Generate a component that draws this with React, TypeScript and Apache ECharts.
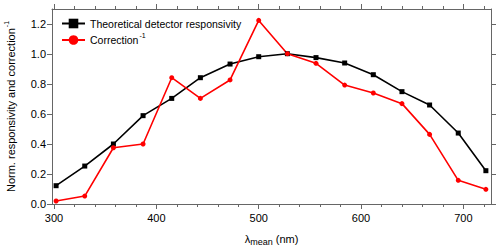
import React, { useEffect, useRef } from "react";
import * as echarts from "echarts";

const wavelengths = [302, 330, 358, 387, 415, 443, 472, 500, 528, 556, 584, 612, 640, 667, 695, 722];
const responsivity = [0.122, 0.253, 0.4, 0.589, 0.704, 0.842, 0.933, 0.982, 1.002, 0.976, 0.94, 0.862, 0.749, 0.66, 0.473, 0.222];
const correctionInv = [0.02, 0.053, 0.375, 0.4, 0.842, 0.704, 0.827, 1.224, 1.002, 0.938, 0.793, 0.74, 0.669, 0.464, 0.158, 0.098];
const xMajorTicks = [300, 400, 500, 600, 700];
const xMinorTicks = [300, 320, 340, 360, 380, 400, 420, 440, 460, 480, 500, 520, 540, 560, 580, 600, 620, 640, 660, 680, 700, 720];
const yTicks = [0, 0.2, 0.4, 0.6, 0.8, 1.0, 1.2];

const FONT = "Liberation Sans, Arial, sans-serif";
const AXIS_COLOR = "#666";
const FS = 11;

export default function App() {
  const ref = useRef<HTMLDivElement>(null);
  useEffect(() => {
    if (!ref.current) return;
    const chart = echarts.init(ref.current, undefined, { renderer: "svg" });
    const xBase = { type: "value", min: 298, max: 727, gridIndex: 0, splitLine: { show: false } };
    const yBase = { type: "value", min: 0, max: 1.3, splitLine: { show: false } };
    chart.setOption({
      animation: false,
      textStyle: { fontFamily: FONT },
      grid: { left: 52, right: 9, top: 9, bottom: 41, containLabel: false, outerBoundsMode: "none" },
      legend: {
        orient: "vertical",
        left: 56,
        top: 13,
        itemGap: 3,
        itemWidth: 23,
        itemHeight: 12,
        textStyle: {
          fontSize: 10.5,
          color: "#000",
          fontFamily: FONT,
          rich: {
            t: { fontSize: 10.5, color: "#000", fontFamily: FONT },
            sup: { fontSize: 7, color: "#000", fontFamily: FONT, verticalAlign: "top", padding: [0, 0, 9, 1] },
          },
        },
        formatter: (name: string) =>
          name === "Correction" ? "{t|Correction}{sup|-1}" : "{t|" + name + "}",
        data: ["Theoretical detector responsivity", "Correction"],
      },
      xAxis: [
        {
          ...xBase,
          position: "bottom",
          name: "{l|λ}{sub|mean}{l| (nm)}",
          nameLocation: "middle",
          nameGap: 27,
          nameTextStyle: {
            rich: {
              l: { fontSize: FS, color: "#000", fontFamily: FONT },
              sub: { fontSize: 9, color: "#000", fontFamily: FONT, padding: [6, 0, 0, 0] },
            },
          },
          axisLine: { show: true, lineStyle: { color: AXIS_COLOR, width: 1 } },
          axisTick: { show: true, inside: false, length: 5, customValues: xMajorTicks, lineStyle: { color: AXIS_COLOR } },
          axisLabel: { show: true, customValues: xMajorTicks, fontSize: FS, color: "#000", margin: 8, fontFamily: FONT },
        },
        {
          ...xBase,
          position: "bottom",
          axisLine: { show: false },
          axisTick: { show: true, inside: false, length: 3, customValues: xMinorTicks, lineStyle: { color: AXIS_COLOR } },
          axisLabel: { show: false },
        },
        {
          ...xBase,
          position: "top",
          axisLine: { show: true, lineStyle: { color: AXIS_COLOR, width: 1 } },
          axisTick: { show: true, inside: false, length: 5, customValues: xMajorTicks, lineStyle: { color: AXIS_COLOR } },
          axisLabel: { show: false },
        },
        {
          ...xBase,
          position: "top",
          axisLine: { show: false },
          axisTick: { show: true, inside: false, length: 3, customValues: xMinorTicks, lineStyle: { color: AXIS_COLOR } },
          axisLabel: { show: false },
        },
      ],
      yAxis: [
        {
          ...yBase,
          position: "left",
          name: "{t|Norm. responsivity and correction}{sup|-1}",
          nameLocation: "middle",
          nameGap: 33,
          nameTextStyle: {
            rich: {
              t: { fontSize: FS, color: "#000", fontFamily: FONT },
              sup: { fontSize: 7, color: "#000", fontFamily: FONT, padding: [0, 0, 9, 1] },
            },
          },
          axisLine: { show: true, lineStyle: { color: AXIS_COLOR, width: 1 } },
          axisTick: { show: true, inside: false, length: 5, customValues: yTicks, lineStyle: { color: AXIS_COLOR } },
          axisLabel: {
            show: true,
            customValues: yTicks,
            fontSize: FS,
            color: "#000",
            margin: 6,
            fontFamily: FONT,
            formatter: (v: number) => v.toFixed(1),
          },
        },
        {
          ...yBase,
          position: "right",
          axisLine: { show: true, lineStyle: { color: AXIS_COLOR, width: 1 } },
          axisTick: { show: true, inside: false, length: 5, customValues: yTicks, lineStyle: { color: AXIS_COLOR } },
          axisLabel: { show: false },
        },
      ],
      series: [
        {
          name: "Theoretical detector responsivity",
          type: "line",
          xAxisIndex: 0,
          yAxisIndex: 0,
          data: wavelengths.map((w, i) => [w, responsivity[i]]),
          symbol: "rect",
          symbolSize: 5,
          lineStyle: { color: "#000", width: 1.6 },
          itemStyle: { color: "#000", borderWidth: 0 },
        },
        {
          name: "Correction",
          type: "line",
          xAxisIndex: 0,
          yAxisIndex: 0,
          data: wavelengths.map((w, i) => [w, correctionInv[i]]),
          symbol: "circle",
          symbolSize: 5,
          lineStyle: { color: "#ff0000", width: 1.6 },
          itemStyle: { color: "#ff0000", borderWidth: 0 },
        },
      ],
    });
    return () => chart.dispose();
  }, []);
  return (
    <div
      ref={ref}
      style={{ position: "fixed", left: 0, top: 0, width: 500, height: 245, background: "#fff" }}
    />
  );
}
